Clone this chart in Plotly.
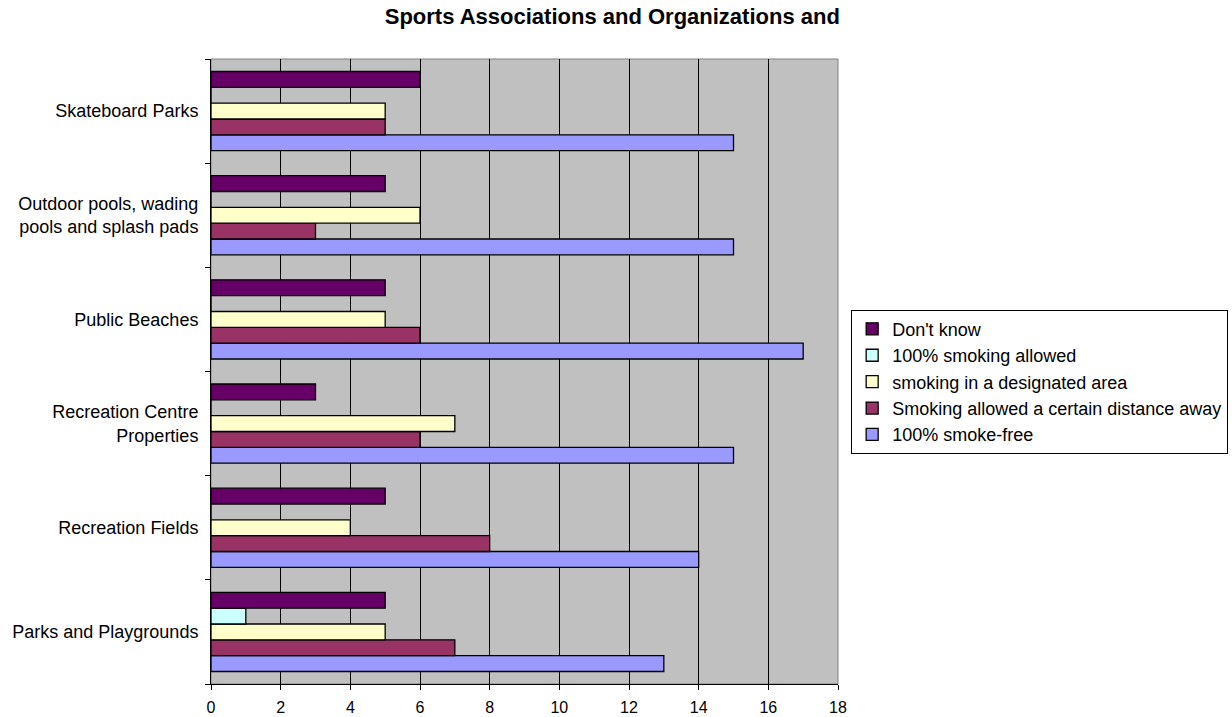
import plotly.graph_objects as go

categories = ["Parks and Playgrounds", "Recreation Fields", "Recreation Centre<br>Properties",
              "Public Beaches", "Outdoor pools, wading<br>pools and splash pads", "Skateboard Parks"]

smoke_free = [13, 14, 15, 17, 15, 15]
distance_away = [7, 8, 6, 6, 3, 5]
designated_area = [5, 4, 7, 5, 6, 5]
smoking_allowed = [1, 0, 0, 0, 0, 0]
dont_know = [5, 5, 3, 5, 5, 6]

series = [
    ("100% smoke-free", smoke_free, "#9999FF"),
    ("Smoking allowed a certain distance away", distance_away, "#993366"),
    ("smoking in a designated area", designated_area, "#FFFFCC"),
    ("100% smoking allowed", smoking_allowed, "#CCFFFF"),
    ("Don't know", dont_know, "#660066"),
]

x_ticks = [0, 2, 4, 6, 8, 10, 12, 14, 16, 18]

fig = go.Figure()
for name, vals, color in series:
    fig.add_trace(go.Bar(
        y=categories, x=vals, name=name, orientation="h",
        marker=dict(color=color, line=dict(color="black", width=1.3)),
    ))

FONT = "Liberation Sans, Arial, sans-serif"
fig.update_layout(
    width=1232, height=717,
    margin=dict(l=211, r=394, t=59, b=33, autoexpand=False),
    paper_bgcolor="white",
    plot_bgcolor="#C0C0C0",
    barmode="group",
    bargap=0.24,
    bargroupgap=0,
    font=dict(family=FONT, size=18, color="black"),
    title=dict(text="<b>Sports Associations and Organizations and</b>",
               x=0.497, xanchor="center", y=0.977, yanchor="middle",
               font=dict(family=FONT, size=22, color="black")),
    legend=dict(
        x=1.021, y=0.599, xanchor="left", yanchor="top",
        traceorder="reversed",
        bordercolor="black", borderwidth=1, bgcolor="white",
        font=dict(family=FONT, size=18, color="black"),
        tracegroupgap=0,
    ),
    xaxis=dict(
        range=[0, 18], tickvals=x_ticks, ticktext=[str(v) for v in x_ticks],
        showgrid=True, gridcolor="black", gridwidth=1,
        showline=True, linecolor="black", linewidth=1,
        ticks="outside", ticklen=5, tickcolor="black",
        tickfont=dict(size=16), ticklabelstandoff=4,
        zeroline=False, fixedrange=True,
    ),
    yaxis=dict(
        type="category", tickson="boundaries",
        showgrid=False, showline=True, linecolor="black", linewidth=1,
        ticks="outside", ticklen=5, tickcolor="black",
        tickfont=dict(size=18),
        ticklabelstandoff=8,
        zeroline=False,
    ),
    shapes=[dict(type="rect", xref="paper", yref="paper", x0=0, x1=1, y0=0, y1=1,
                 line=dict(color="#808080", width=1), layer="below")],
)

fig.write_html("out.html")
